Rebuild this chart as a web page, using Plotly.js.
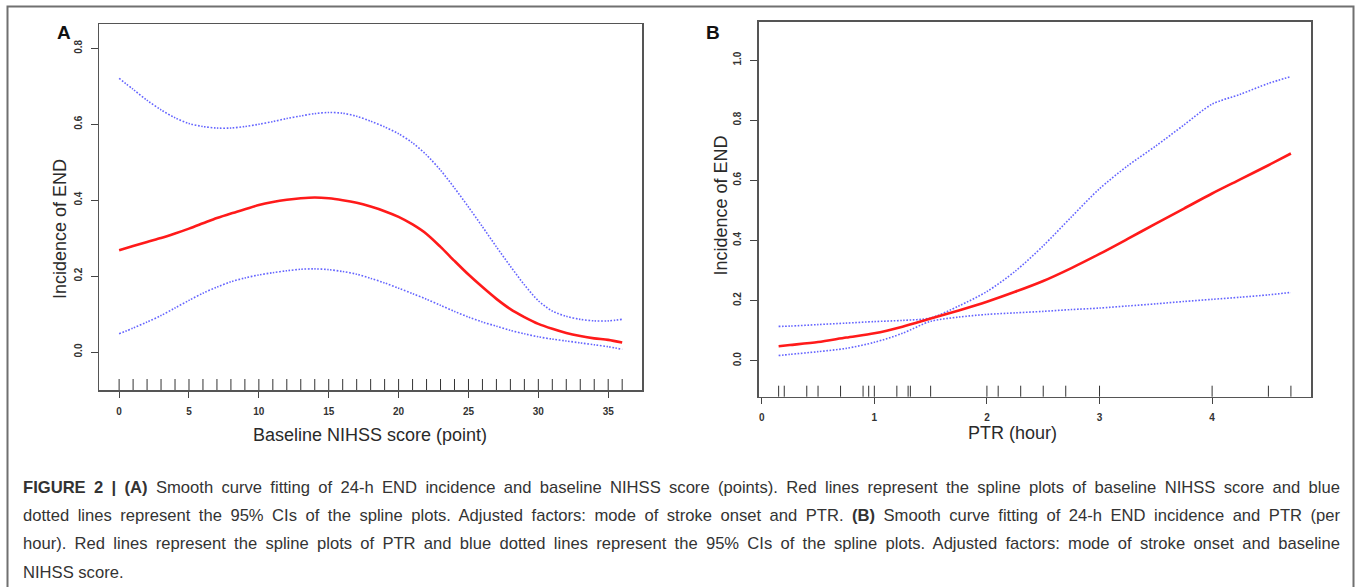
<!DOCTYPE html>
<html><head><meta charset="utf-8">
<script src="https://cdn.plot.ly/plotly-3.0.1.min.js"></script>
<style>
html,body{margin:0;padding:0;background:#fff;}
#wrap{position:relative;width:1357px;height:587px;overflow:hidden;}
#chart{position:absolute;left:0;top:0;width:1357px;height:587px;}
#cap{position:absolute;left:23px;top:474px;width:1317px;font-family:"Liberation Sans",Arial,sans-serif;font-size:16.6px;line-height:28.2px;color:#333;}
#cap div{white-space:nowrap;}
</style></head>
<body>
<div id="wrap">
<div id="chart"></div>
<div id="cap">
<div class="j"><span><b>FIGURE 2 | (A)</b> Smooth curve fitting of 24-h END incidence and baseline NIHSS score (points). Red lines represent the spline plots of baseline NIHSS score and blue</span></div>
<div class="j"><span>dotted lines represent the 95% CIs of the spline plots. Adjusted factors: mode of stroke onset and PTR. <b>(B)</b> Smooth curve fitting of 24-h END incidence and PTR (per</span></div>
<div class="j"><span>hour). Red lines represent the spline plots of PTR and blue dotted lines represent the 95% CIs of the spline plots. Adjusted factors: mode of stroke onset and baseline</span></div>
<div><span>NIHSS score.</span></div>
</div>
</div>
<script>
// ---------- Panel A data ----------
const nihss = [0,1,2,3,4,5,6,7,8,9,10,11,12,13,14,15,16,17,18,19,20,21,22,23,24,25,26,27,28,29,30,31,32,33,34,35,36];
const fitA = [0.268,0.279,0.290,0.300,0.312,0.325,0.339,0.353,0.365,0.376,0.387,0.395,0.401,0.405,0.407,0.405,0.400,0.393,0.383,0.371,0.356,0.336,0.311,0.277,0.240,0.204,0.171,0.140,0.113,0.092,0.074,0.061,0.050,0.042,0.036,0.032,0.025];
const upperA = [0.721,0.692,0.663,0.638,0.617,0.602,0.594,0.590,0.590,0.594,0.600,0.607,0.615,0.622,0.628,0.631,0.629,0.621,0.608,0.593,0.575,0.551,0.519,0.479,0.432,0.382,0.330,0.277,0.226,0.177,0.135,0.108,0.094,0.086,0.082,0.082,0.086];
const lowerA = [0.048,0.063,0.079,0.096,0.116,0.136,0.155,0.171,0.185,0.195,0.203,0.209,0.214,0.218,0.219,0.217,0.212,0.205,0.194,0.182,0.168,0.154,0.139,0.123,0.107,0.092,0.079,0.068,0.057,0.048,0.040,0.034,0.029,0.024,0.019,0.014,0.007];
const rugA = [0,1,2,3,4,5,6,7,8,9,10,11,12,13,14,15,16,17,18,19,20,21,22,23,24,25,26,27,28,29,30,31,32,33,34,35,36];
const xTicksA = [0,5,10,15,20,25,30,35];
const yTicksA = [0,0.2,0.4,0.6,0.8];
const yTickTextA = ['0.0','0.2','0.4','0.6','0.8'];

// ---------- Panel B data ----------
const ptr = [0.15,0.25,0.5,0.75,1.0,1.25,1.5,1.75,2.0,2.25,2.5,2.75,3.0,3.25,3.5,3.75,4.0,4.25,4.5,4.7];
const fitB = [0.048,0.052,0.062,0.077,0.091,0.113,0.140,0.167,0.196,0.229,0.265,0.308,0.355,0.405,0.456,0.506,0.556,0.603,0.650,0.689];
const upperB = [0.114,0.115,0.120,0.125,0.130,0.134,0.142,0.182,0.230,0.297,0.382,0.478,0.572,0.648,0.714,0.784,0.853,0.886,0.922,0.945];
const lowerB = [0.017,0.021,0.030,0.041,0.061,0.091,0.131,0.145,0.154,0.159,0.164,0.170,0.175,0.182,0.189,0.197,0.204,0.211,0.219,0.227];
const rugB = [0.15,0.2,0.4,0.5,0.7,0.9,0.95,1.0,1.2,1.3,1.32,1.5,2.0,2.1,2.3,2.5,2.7,3.0,4.0,4.5,4.7];
const xTicksB = [0,1,2,3,4];
const yTicksB = [0,0.2,0.4,0.6,0.8,1.0];
const yTickTextB = ['0.0','0.2','0.4','0.6','0.8','1.0'];

const W = 1357, H = 587;
const px = v => v / W;
const py = v => 1 - v / H;

const RED = '#ff1a1a';
const BLUE = 'rgb(100,100,255)';
const FONT = '"Liberation Sans", Arial, Helvetica, sans-serif';

function ci(x, y, xa, ya) {
  return {x: x, y: y, xaxis: xa, yaxis: ya, type: 'scatter', mode: 'lines',
          line: {color: BLUE, width: 1.6, dash: '1.6px,1.6px', shape: 'spline', smoothing: 0.8},
          hoverinfo: 'skip', showlegend: false};
}
function fit(x, y, xa, ya) {
  return {x: x, y: y, xaxis: xa, yaxis: ya, type: 'scatter', mode: 'lines',
          line: {color: RED, width: 2.6, shape: 'spline', smoothing: 0.8},
          hoverinfo: 'skip', showlegend: false};
}

const data = [
  ci(nihss, upperA, 'x', 'y'),
  ci(nihss, lowerA, 'x', 'y'),
  fit(nihss, fitA, 'x', 'y'),
  ci(ptr, upperB, 'x2', 'y2'),
  ci(ptr, lowerB, 'x2', 'y2'),
  fit(ptr, fitB, 'x2', 'y2')
];

const axisCommon = {
  showgrid: false, zeroline: false, showline: true, mirror: true,
  linecolor: '#555', linewidth: 1.5, ticks: 'outside', tickcolor: '#444',
  tickwidth: 1, fixedrange: true
};

function rugShapes(vals, xref, yref, frac) {
  return vals.map(v => ({type: 'line', xref: xref, yref: yref + ' domain',
    x0: v, x1: v, y0: 0, y1: frac, line: {color: '#333', width: 1}}));
}

const shapes = [].concat(
  rugShapes(rugA, 'x', 'y', 11 / 365.7),
  rugShapes(rugB, 'x2', 'y2', 11 / 375),
  [{type: 'rect', xref: 'paper', yref: 'paper', x0: px(7.5), x1: px(1353.5), y0: py(6.5), y1: -0.1,
    line: {color: '#707070', width: 2}, fillcolor: 'rgba(0,0,0,0)', layer: 'above'}]
);

const titleFont = {family: FONT, size: 18, color: '#2a2a2a'};
const annotations = [
  {text: 'A', x: px(64), y: py(32.7), font: {family: FONT, size: 19, color: '#111', weight: 'bold'}},
  {text: 'B', x: px(712.7), y: py(32.5), font: {family: FONT, size: 19, color: '#111', weight: 'bold'}},
  {text: 'Baseline NIHSS score (point)', x: px(370.5), y: py(434.5), font: titleFont},
  {text: 'Incidence of END', x: px(60), y: py(229), textangle: -90, font: titleFont},
  {text: 'Incidence of END', x: px(720.5), y: py(206), textangle: -90, font: titleFont},
  {text: 'PTR (hour)', x: px(1012.7), y: py(433), font: titleFont}
].map(a => Object.assign({xref: 'paper', yref: 'paper', xanchor: 'center', yanchor: 'middle', showarrow: false}, a));

const tickFont = {family: FONT, size: 10, color: '#333', weight: 'bold'};

const layout = {
  width: W, height: H,
  margin: {l: 0, r: 0, t: 0, b: 0, pad: 0},
  paper_bgcolor: '#fff', plot_bgcolor: '#fff',
  showlegend: false,
  font: {family: FONT},
  xaxis: Object.assign({}, axisCommon, {domain: [px(99), px(642.3)], range: [-1.44, 37.44], anchor: 'y',
    tickvals: xTicksA, ticklen: 6, tickfont: tickFont, ticklabelstandoff: 5}),
  yaxis: Object.assign({}, axisCommon, {domain: [py(390), py(24.3)], range: [-0.1001, 0.8633], anchor: 'x',
    tickvals: yTicksA, ticktext: yTickTextA, ticklen: 7, tickangle: -90, tickfont: tickFont, ticklabelstandoff: 5}),
  xaxis2: Object.assign({}, axisCommon, {domain: [px(758.7), px(1311.3)], range: [-0.027, 4.881], anchor: 'y2',
    tickvals: xTicksB, ticklen: 6, tickfont: tickFont, ticklabelstandoff: 5}),
  yaxis2: Object.assign({}, axisCommon, {domain: [py(396.7), py(21.7)], range: [-0.1198, 1.1274], anchor: 'x2',
    tickvals: yTicksB, ticktext: yTickTextB, ticklen: 7, tickangle: -90, tickfont: tickFont, ticklabelstandoff: 5}),
  shapes: shapes,
  annotations: annotations
};

Plotly.newPlot('chart', data, layout, {staticPlot: true, displayModeBar: false});

// justify caption lines to the caption width
(function justify() {
  const target = 1317;
  document.querySelectorAll('#cap div.j').forEach(function (d) {
    const s = d.querySelector('span');
    const spaces = (s.textContent.match(/ /g) || []).length;
    const natural = s.getBoundingClientRect().width;
    if (spaces > 0) s.style.wordSpacing = ((target - natural) / spaces) + 'px';
  });
})();
</script>
</body></html>
